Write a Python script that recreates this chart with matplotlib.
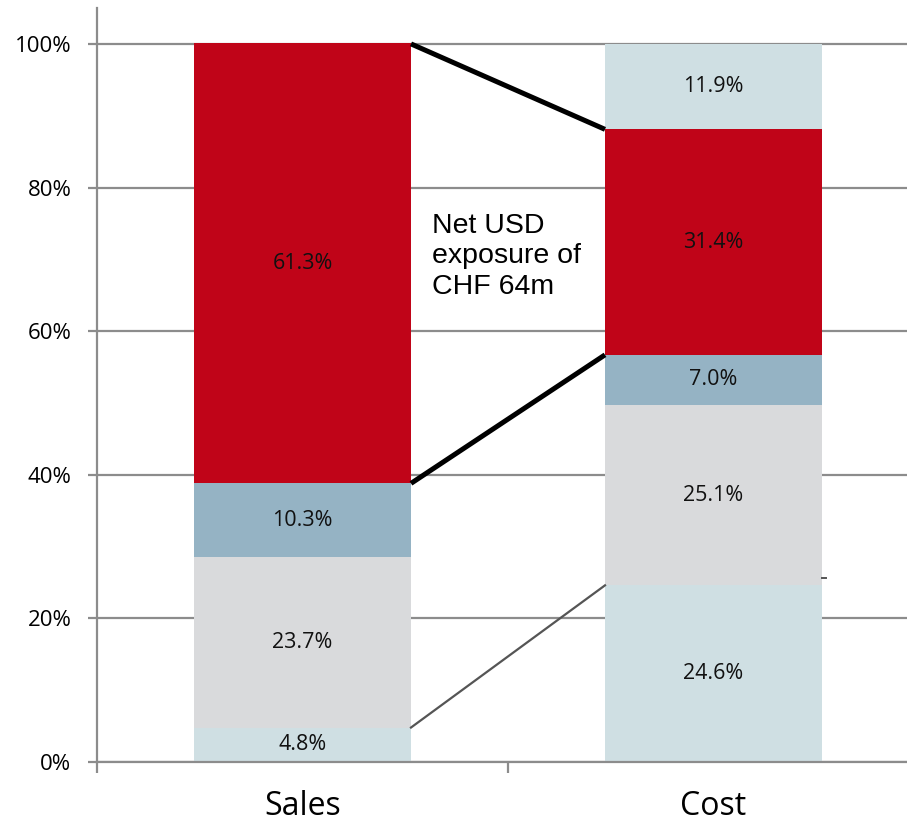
import numpy as np
import matplotlib
matplotlib.use("Agg")
import matplotlib.pyplot as plt
from matplotlib.ticker import FixedLocator

categories = ["Sales", "Cost"]
sales_shares = [4.8, 23.7, 10.3, 61.3]
cost_shares = [24.6, 25.1, 7.0, 31.4, 11.9]
y_ticks = [0, 20, 40, 60, 80, 100]
note = "Net USD\nexposure of\nCHF 64m"

light_blue = "#CFDFE3"
light_grey = "#D9DADC"
blue_grey = "#95B3C4"
red = "#C00418"
sales_colors = [light_blue, light_grey, blue_grey, red]
cost_colors = [light_blue, light_grey, blue_grey, red, light_blue]

label_font = "Open Sans"
grid_col = "#8c8c8c"

fig = plt.figure(figsize=(9.07, 8.23), dpi=100)
ax = fig.add_axes([97 / 907, 61 / 823, 822 / 907, 754 / 823])

bar_w = 0.528
x = np.arange(len(categories))


def stack(ax, xpos, shares, colors):
    bottoms = np.concatenate([[0], np.cumsum(shares)[:-1]])
    for val, bot, col in zip(shares, bottoms, colors):
        ax.bar(xpos, val, bottom=bot, width=bar_w, color=col, zorder=2)
        ax.text(xpos, bot + val / 2, "{:.1f}%".format(val), ha="center", va="center",
                fontsize=15.5, family=label_font, color="#111111", zorder=3)
    return np.cumsum(shares)


sales_top = stack(ax, x[0], sales_shares, sales_colors)
cost_top = stack(ax, x[1], cost_shares, cost_colors)

# connectors between the two bars
x0 = x[0] + bar_w / 2
x1 = x[1] - bar_w / 2
ax.plot([x0, x1], [100, cost_top[3]], color="black", lw=3.6, zorder=4, solid_capstyle="butt")
ax.plot([x0, x1], [sales_top[2], cost_top[2]], color="black", lw=3.6, zorder=4, solid_capstyle="butt")
ax.plot([x0, x1], [sales_top[0], cost_top[0]], color="#555555", lw=1.6, zorder=4)
ax.plot([x[1] + bar_w / 2, x[1] + bar_w / 2 + 0.01], [25.6, 25.6], color="#555555", lw=1.4, zorder=4)

ax.text(0.315, 70.4, note, ha="left", va="center", fontsize=20.5, family="Liberation Sans",
        linespacing=1.22, zorder=5)

ax.set_xlim(-0.5, 1.5)
ax.set_ylim(0, 105)

ax.set_yticks(y_ticks)
ax.set_yticklabels(["{}%".format(t) for t in y_ticks], family=label_font, fontsize=16)
ax.yaxis.grid(True, color=grid_col, lw=1.6, zorder=0)
ax.tick_params(axis="y", direction="out", length=6.5, width=1.6, color=grid_col, pad=12)

ax.set_xticks(x)
ax.set_xticklabels(categories, family=label_font, fontsize=23)
ax.tick_params(axis="x", length=0, pad=20)
ax.xaxis.set_minor_locator(FixedLocator([-0.5, 0.5, 1.5]))
ax.tick_params(axis="x", which="minor", direction="out", length=8, width=1.6, color=grid_col)

for s in ["top", "right"]:
    ax.spines[s].set_visible(False)
for s in ["left", "bottom"]:
    ax.spines[s].set_color(grid_col)
    ax.spines[s].set_linewidth(1.6)
ax.set_axisbelow(True)

fig.savefig("out.png", dpi=100)
